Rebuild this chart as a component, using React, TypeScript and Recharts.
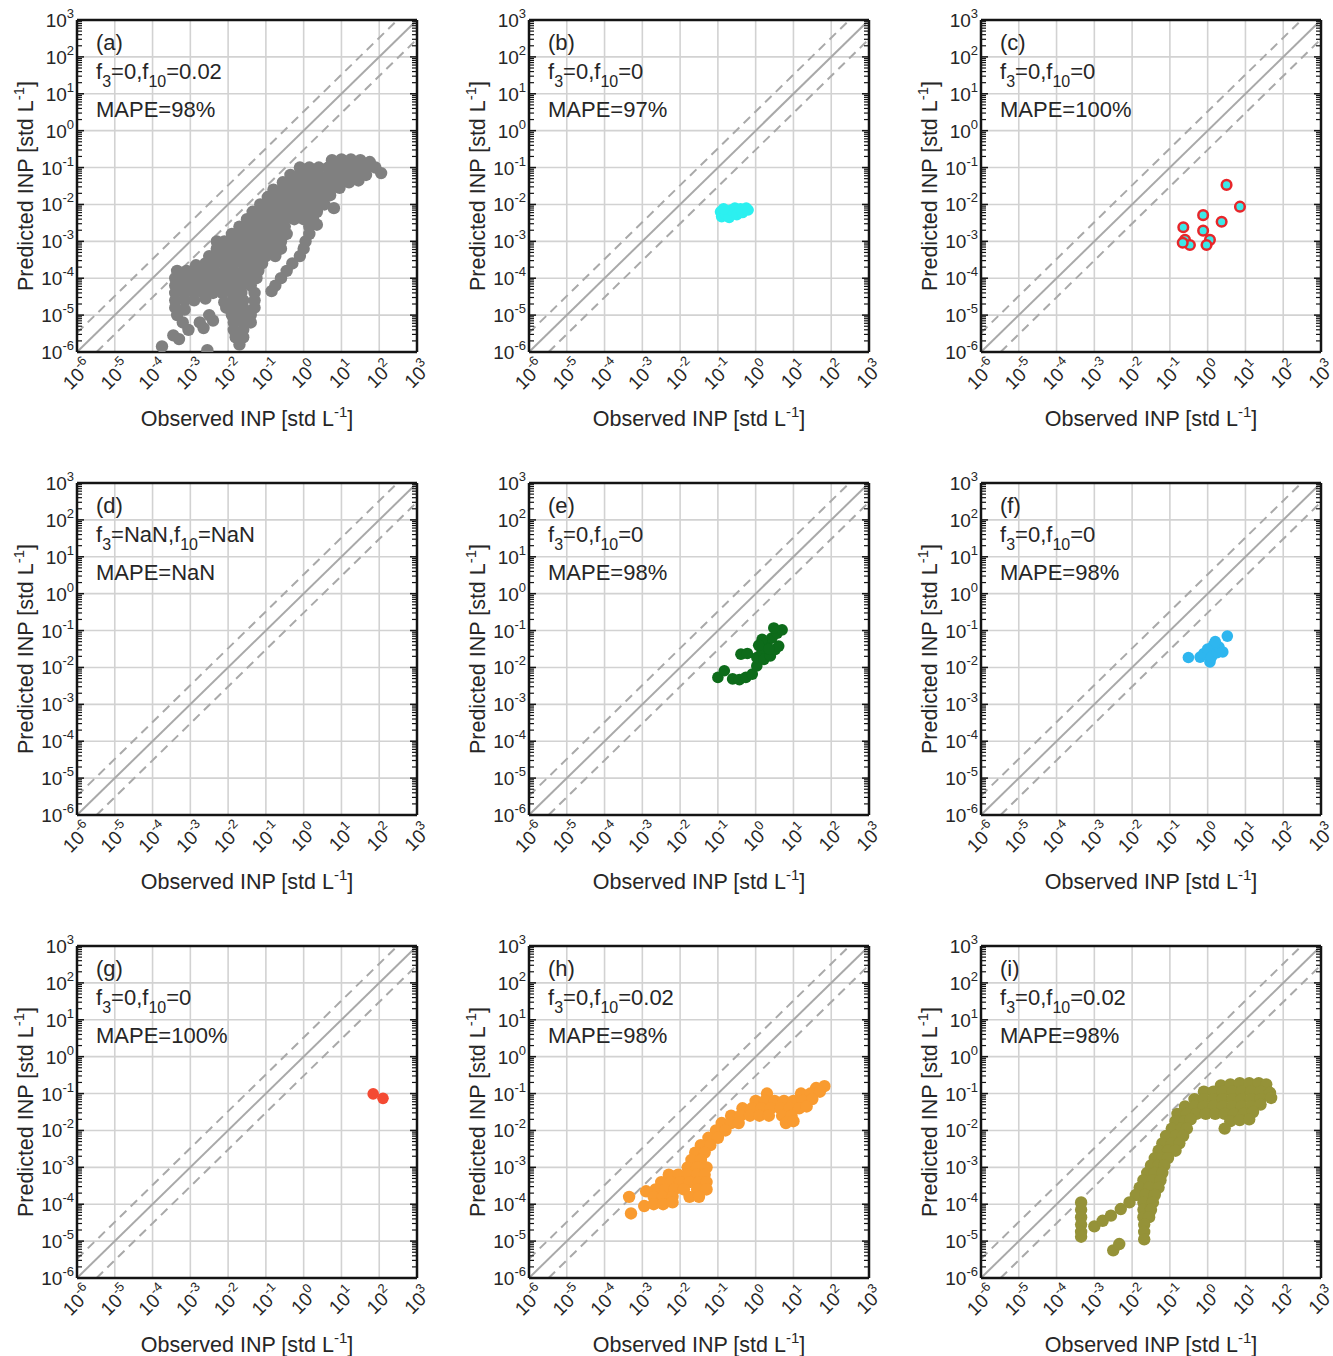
import React from "react";
import {
  ScatterChart,
  Scatter,
  XAxis,
  YAxis,
  CartesianGrid,
  ReferenceLine,
} from "recharts";

// axis setup (log10 exponents of the decade ticks)
const EXPONENTS = [-6, -5, -4, -3, -2, -1, 0, 1, 2, 3];
const MINOR_STEPS = [2, 3, 4, 5, 6, 7, 8, 9];
const DOMAIN: [number, number] = [1e-6, 1e3];
const DASH_FACTOR = 3.3;

// panel annotations
const LETTERS = ["a", "b", "c", "d", "e", "f", "g", "h", "i"];
const F3 = ["0", "0", "0", "NaN", "0", "0", "0", "0", "0"];
const F10 = ["0.02", "0", "0", "NaN", "0", "0", "0", "0.02", "0.02"];
const MAPE = ["98%", "97%", "100%", "NaN", "98%", "98%", "100%", "98%", "98%"];

// points as [log10 observed, log10 predicted]
const POINTS_A = [
  [0.75, -0.8], [1.0, -0.78], [1.25, -0.78], [1.5, -0.8], [1.75, -0.85],
  [-0.1, -1.0], [0.15, -1.0], [0.4, -1.0], [0.65, -1.0], [0.9, -1.0], [1.15, -1.0], [1.4, -1.0], [1.65, -1.0], [1.9, -1.0],
  [2.05, -1.15],
  [-0.35, -1.2], [-0.1, -1.2], [0.15, -1.2], [0.4, -1.2], [0.65, -1.2], [0.9, -1.2], [1.15, -1.2], [1.4, -1.2], [1.65, -1.2],
  [-0.55, -1.4], [-0.3, -1.4], [-0.05, -1.4], [0.2, -1.4], [0.45, -1.4], [0.7, -1.4], [0.95, -1.4], [1.2, -1.4], [1.45, -1.35],
  [-0.8, -1.6], [-0.55, -1.6], [-0.3, -1.6], [-0.05, -1.6], [0.2, -1.6], [0.45, -1.6], [0.7, -1.6], [0.95, -1.55],
  [-0.95, -1.8], [-0.7, -1.8], [-0.45, -1.8], [-0.2, -1.8], [0.05, -1.8], [0.3, -1.8], [0.55, -1.8], [0.7, -1.75],
  [-1.15, -2.0], [-0.9, -2.0], [-0.65, -2.0], [-0.4, -2.0], [-0.15, -2.0], [0.1, -2.0], [0.35, -2.0], [0.55, -2.0],
  [0.8, -2.1],
  [-1.35, -2.2], [-1.1, -2.2], [-0.85, -2.2], [-0.6, -2.2], [-0.35, -2.2], [-0.1, -2.2], [0.15, -2.2], [0.35, -2.2],
  [-1.5, -2.4], [-1.25, -2.4], [-1.0, -2.4], [-0.75, -2.4], [-0.5, -2.4], [-0.25, -2.4], [0.0, -2.4], [0.25, -2.4],
  [-1.7, -2.6], [-1.45, -2.6], [-1.2, -2.6], [-0.95, -2.6], [-0.7, -2.6], [-0.5, -2.6], [0.15, -2.6], [0.35, -2.55],
  [-1.9, -2.8], [-1.65, -2.8], [-1.4, -2.8], [-1.15, -2.8], [-0.9, -2.8], [-0.65, -2.8], [-0.45, -2.8], [0.15, -2.8],
  [-2.3, -3.0], [-2.1, -3.0], [-1.85, -3.0], [-1.6, -3.0], [-1.35, -3.0], [-1.1, -3.0], [-0.85, -3.0], [-0.6, -3.0], [0.05, -3.0],
  [-2.3, -3.2], [-2.05, -3.2], [-1.8, -3.2], [-1.55, -3.2], [-1.3, -3.2], [-1.05, -3.2], [-0.8, -3.2], [-0.6, -3.2], [0.0, -3.2],
  [-2.5, -3.4], [-2.25, -3.4], [-2.0, -3.4], [-1.75, -3.4], [-1.5, -3.4], [-1.25, -3.4], [-1.0, -3.4], [-0.75, -3.4], [-0.1, -3.4],
  [-2.85, -3.65], [-2.6, -3.6], [-2.35, -3.6], [-2.1, -3.6], [-1.85, -3.6], [-1.6, -3.6], [-1.35, -3.6], [-1.1, -3.6], [-0.3, -3.6],
  [-3.35, -3.8], [-3.1, -3.8], [-2.85, -3.8], [-2.6, -3.8], [-2.35, -3.8], [-2.1, -3.8], [-1.85, -3.8], [-1.6, -3.8], [-1.35, -3.8], [-1.2, -3.8], [-0.45, -3.8],
  [-3.4, -4.0], [-3.15, -4.0], [-2.9, -4.0], [-2.65, -4.0], [-2.4, -4.0], [-2.15, -4.0], [-1.9, -4.0], [-1.65, -4.0], [-1.4, -4.0], [-1.25, -4.0], [-0.6, -4.0],
  [-3.4, -4.2], [-3.15, -4.2], [-2.9, -4.2], [-2.65, -4.2], [-2.4, -4.2], [-2.15, -4.2], [-1.9, -4.2], [-1.65, -4.2], [-1.4, -4.2], [-0.75, -4.2],
  [-3.4, -4.4], [-3.15, -4.4], [-2.9, -4.4], [-2.65, -4.4], [-2.4, -4.4], [-2.15, -4.4], [-1.9, -4.4], [-1.65, -4.4], [-1.3, -4.4], [-0.85, -4.35],
  [-3.4, -4.6], [-3.15, -4.6], [-2.9, -4.6], [-2.6, -4.55], [-2.1, -4.65], [-1.85, -4.6], [-1.6, -4.6], [-1.3, -4.6],
  [-3.4, -4.8], [-3.15, -4.85], [-2.05, -4.8], [-1.85, -4.8], [-1.6, -4.8], [-1.3, -4.8],
  [-3.35, -5.0], [-2.5, -5.0], [-1.9, -5.0], [-1.65, -5.0], [-1.4, -5.0],
  [-3.2, -5.2], [-2.75, -5.2], [-2.4, -5.15], [-1.85, -5.2], [-1.6, -5.2], [-1.4, -5.2],
  [-3.05, -5.4], [-2.65, -5.35], [-1.85, -5.4], [-1.6, -5.4],
  [-3.45, -5.55], [-3.3, -5.65], [-1.8, -5.6], [-1.6, -5.6],
  [-3.75, -5.85], [-1.7, -5.8],
  [-2.55, -5.95],
];

const POINTS_B = [
  [-0.93, -2.2], [-0.9, -2.33], [-0.8, -2.25], [-0.7, -2.35], [-0.65, -2.15], [-0.55, -2.1],
  [-0.5, -2.28], [-0.4, -2.12], [-0.35, -2.22], [-0.25, -2.1], [-0.2, -2.15], [-0.85, -2.12],
];

const POINTS_C = [
  [0.5, -1.47], [0.855, -2.06], [-0.12, -2.29], [0.37, -2.47], [-0.645, -2.62], [-0.12, -2.71],
  [-0.6, -2.96], [-0.47, -3.1], [0.06, -2.96], [-0.03, -3.1], [-0.66, -3.04],
];

const POINTS_D: number[][] = [];

const POINTS_E = [
  [-1.0, -2.27], [-0.83, -2.09], [-0.61, -2.31], [-0.43, -2.33], [-0.26, -2.27], [-0.09, -2.18],
  [0.03, -1.96], [0.03, -1.73], [-0.39, -1.64], [-0.22, -1.62], [0.17, -1.56], [0.22, -1.78],
  [0.39, -1.69], [0.52, -1.51], [0.3, -1.33], [0.43, -1.2], [0.17, -1.24], [0.57, -1.07],
  [0.7, -0.98], [0.48, -0.93], [0.61, -1.42], [0.08, -1.4], [0.35, -1.5],
];

const POINTS_F = [
  [-0.51, -1.73], [-0.2, -1.72], [-0.1, -1.62], [0.0, -1.5], [0.06, -1.85], [0.1, -1.72],
  [0.15, -1.4], [0.25, -1.6], [0.3, -1.45], [0.4, -1.58], [0.52, -1.15], [0.2, -1.3],
];

const POINTS_G = [[1.84, -1.01], [2.1, -1.13]];

const POINTS_H = [
  [1.6, -0.85], [1.82, -0.8],
  [0.3, -1.0], [1.2, -1.0], [1.45, -1.0], [1.7, -0.95],
  [0.0, -1.2], [0.25, -1.2], [0.5, -1.2], [0.75, -1.2], [1.0, -1.2], [1.25, -1.2], [1.5, -1.15],
  [-0.35, -1.4], [-0.1, -1.4], [0.15, -1.4], [0.4, -1.4], [0.65, -1.4], [0.9, -1.4], [1.15, -1.4], [1.35, -1.35],
  [-0.65, -1.6], [-0.4, -1.6], [-0.15, -1.6], [0.1, -1.6], [0.35, -1.6], [0.7, -1.6], [0.95, -1.6],
  [-0.9, -1.8], [-0.65, -1.8], [-0.45, -1.8], [0.8, -1.8], [1.0, -1.75],
  [-1.05, -2.0], [-0.8, -2.0],
  [-1.25, -2.2], [-1.0, -2.2],
  [-1.45, -2.4], [-1.2, -2.4],
  [-1.6, -2.6], [-1.35, -2.6],
  [-1.7, -2.8], [-1.45, -2.8],
  [-1.8, -3.0], [-1.55, -3.0], [-1.3, -3.0],
  [-2.3, -3.2], [-2.05, -3.2], [-1.8, -3.2], [-1.55, -3.2], [-1.35, -3.2],
  [-2.5, -3.4], [-2.25, -3.4], [-2.0, -3.4], [-1.75, -3.4], [-1.5, -3.4], [-1.3, -3.4],
  [-2.9, -3.65], [-2.65, -3.6], [-2.4, -3.6], [-2.15, -3.6], [-1.9, -3.6], [-1.55, -3.6], [-1.3, -3.6],
  [-3.35, -3.8], [-2.7, -3.8], [-2.45, -3.8], [-2.2, -3.8], [-1.75, -3.8], [-1.5, -3.8],
  [-2.95, -4.05], [-2.7, -4.0], [-2.45, -4.0], [-2.2, -3.95],
  [-3.3, -4.25],
];

const POINTS_I = [
  [0.35, -0.78], [0.6, -0.75], [0.85, -0.72], [1.1, -0.72], [1.35, -0.72], [1.55, -0.75],
  [-0.1, -0.95], [0.15, -0.95], [0.4, -0.95], [0.65, -0.95], [0.9, -0.95], [1.15, -0.95], [1.4, -0.95], [1.65, -0.98],
  [-0.35, -1.15], [-0.1, -1.15], [0.15, -1.15], [0.4, -1.15], [0.65, -1.15], [0.9, -1.15], [1.15, -1.15], [1.4, -1.15], [1.68, -1.12],
  [-0.6, -1.35], [-0.35, -1.35], [-0.1, -1.35], [0.15, -1.35], [0.4, -1.35], [0.65, -1.35], [0.9, -1.35], [1.15, -1.35], [1.4, -1.3],
  [-0.8, -1.55], [-0.55, -1.55], [-0.3, -1.55], [-0.05, -1.55], [0.2, -1.55], [0.45, -1.55], [0.7, -1.55], [0.95, -1.55], [1.2, -1.5],
  [-0.85, -1.75], [-0.6, -1.75], [-0.45, -1.7], [0.6, -1.75], [0.85, -1.72], [1.1, -1.7],
  [-0.95, -1.95], [-0.7, -1.95], [-0.55, -1.95], [0.45, -1.95],
  [-1.1, -2.15], [-0.85, -2.15], [-0.65, -2.15],
  [-1.2, -2.35], [-0.95, -2.35], [-0.75, -2.35],
  [-1.3, -2.55], [-1.05, -2.55], [-0.85, -2.55],
  [-1.4, -2.75], [-1.2, -2.75], [-1.05, -2.75],
  [-1.5, -2.95], [-1.3, -2.95], [-1.15, -2.95],
  [-1.6, -3.15], [-1.4, -3.15], [-1.2, -3.15],
  [-1.7, -3.35], [-1.45, -3.35], [-1.25, -3.35],
  [-1.8, -3.55], [-1.55, -3.55], [-1.3, -3.55],
  [-1.9, -3.75], [-1.65, -3.75], [-1.4, -3.75],
  [-1.7, -3.95], [-1.45, -3.95],
  [-1.7, -4.15], [-1.5, -4.15],
  [-1.7, -4.35], [-1.55, -4.35],
  [-1.68, -4.55], [-1.68, -4.75], [-1.68, -4.95],
  [-3.35, -3.95], [-3.35, -4.15], [-3.35, -4.35], [-3.35, -4.55], [-3.35, -4.75], [-3.35, -4.88],
  [-3.0, -4.6], [-2.78, -4.45], [-2.56, -4.31], [-2.3, -4.13], [-2.07, -3.95],
  [-2.5, -5.25], [-2.34, -5.08],
];

const POINT_SETS = [POINTS_A, POINTS_B, POINTS_C, POINTS_D, POINTS_E, POINTS_F, POINTS_G, POINTS_H, POINTS_I];
const FILLS = ["#808080", "#2cf0f0", "#3de8e8", "#808080", "#0d6b1a", "#2eb6ef", "#f44a33", "#f99b30", "#959238"];
const EDGES = [null, null, "#e8262a", null, null, null, null, null, null];
const RADII = [6.2, 5.8, 4.8, 5.8, 5.8, 5.8, 5.8, 6.2, 6.2];

const DECADE_TICKS = EXPONENTS.map((e) => 10 ** e);
const MINOR_TICKS = EXPONENTS.slice(0, -1).flatMap((e) => MINOR_STEPS.map((m) => m * 10 ** e));

const FONT = '"Liberation Sans", Arial, Helvetica, sans-serif';
const TEXT = "#262626";
const BOX = "#141414";
const REF = "#a9a9a9";

function XTick({ x, y, payload }: any) {
  const e = Math.round(Math.log10(payload.value));
  return (
    <text
      transform={`translate(${x + 1},${y + 23}) rotate(-45)`}
      textAnchor="middle"
      dy={6}
      fontSize={19}
      fill={TEXT}
      fontFamily={FONT}
    >
      10<tspan dy={-9} fontSize={13}>{e}</tspan>
    </text>
  );
}

function YTick({ x, y, payload }: any) {
  const e = Math.round(Math.log10(payload.value));
  return (
    <text x={x - 3} y={y} dy={7} textAnchor="end" fontSize={19} fill={TEXT} fontFamily={FONT}>
      10<tspan dy={-9} fontSize={13}>{e}</tspan>
    </text>
  );
}

// invisible label so only the tick marks of the box axes are drawn
const NoLabel = () => <g />;

function XTitle({ viewBox }: any) {
  const { x, y, width } = viewBox;
  return (
    <text x={x + width / 2} y={y + 74} textAnchor="middle" fontSize={21.5} fill={TEXT} fontFamily={FONT}>
      Observed INP [std L<tspan dy={-9} fontSize={15}>-1</tspan>
      <tspan dy={9}>]</tspan>
    </text>
  );
}

function YTitle({ viewBox }: any) {
  const { x, y, height } = viewBox;
  return (
    <text
      transform={`translate(${x + 26},${y + height / 2}) rotate(-90)`}
      textAnchor="middle"
      fontSize={21.5}
      fill={TEXT}
      fontFamily={FONT}
    >
      Predicted INP [std L<tspan dy={-9} fontSize={15}>-1</tspan>
      <tspan dy={9}>]</tspan>
    </text>
  );
}

const logAxis = {
  type: "number" as const,
  scale: "log" as const,
  domain: DOMAIN,
  allowDataOverflow: true,
  interval: 0 as const,
};

const majorBox = {
  ...logAxis,
  mirror: true,
  ticks: DECADE_TICKS,
  tick: NoLabel,
  tickSize: 7,
  axisLine: { stroke: BOX, strokeWidth: 2.5 },
  tickLine: { stroke: BOX, strokeWidth: 1.5 },
};

const minorBox = {
  ...logAxis,
  mirror: true,
  ticks: MINOR_TICKS,
  tick: NoLabel,
  tickSize: 4,
  axisLine: false,
  tickLine: { stroke: BOX, strokeWidth: 1.2 },
};

function Panel({ index }: { index: number }) {
  const col = index % 3;
  const row = Math.floor(index / 3);
  const data = POINT_SETS[index].map(([lx, ly]) => ({ x: 10 ** lx, y: 10 ** ly }));
  const fill = FILLS[index];
  const edge = EDGES[index];
  const r = RADII[index];
  const textStyle = {
    position: "absolute" as const,
    left: 96,
    fontFamily: FONT,
    fontSize: 22,
    lineHeight: "24px",
    color: TEXT,
    whiteSpace: "nowrap" as const,
  };
  const sub = { fontSize: 16, position: "relative" as const, top: 8 };

  return (
    <div style={{ position: "absolute", left: col * 452, top: row * 463, width: 440, height: 450 }}>
      <ScatterChart width={440} height={450} margin={{ top: 20, right: 23, bottom: 18, left: 7 }}>
        <CartesianGrid stroke="#d2d2d2" strokeWidth={1.6} />
        <XAxis
          {...logAxis}
          dataKey="x"
          ticks={DECADE_TICKS}
          height={80}
          tickSize={0}
          tickMargin={0}
          axisLine={false}
          tickLine={false}
          tick={(p: any) => <XTick {...p} />}
          label={<XTitle />}
        />
        <YAxis
          {...logAxis}
          dataKey="y"
          ticks={DECADE_TICKS}
          width={70}
          tickSize={0}
          tickMargin={0}
          axisLine={false}
          tickLine={false}
          tick={(p: any) => <YTick {...p} />}
          label={<YTitle />}
        />
        <ReferenceLine
          segment={[{ x: 1e-6, y: 1e-6 }, { x: 1e3, y: 1e3 }]}
          stroke={REF}
          strokeWidth={2}
        />
        <ReferenceLine
          segment={[{ x: 1e-6, y: 1e-6 * DASH_FACTOR }, { x: 1e3 / DASH_FACTOR, y: 1e3 }]}
          stroke={REF}
          strokeWidth={2}
          strokeDasharray="9 6"
        />
        <ReferenceLine
          segment={[{ x: 1e-6 * DASH_FACTOR, y: 1e-6 }, { x: 1e3, y: 1e3 / DASH_FACTOR }]}
          stroke={REF}
          strokeWidth={2}
          strokeDasharray="9 6"
        />
        <Scatter
          data={data}
          isAnimationActive={false}
          shape={(p: any) => (
            <circle
              cx={p.cx}
              cy={p.cy}
              r={r}
              fill={fill}
              stroke={edge ?? "none"}
              strokeWidth={edge ? 2.5 : 0}
            />
          )}
        />
        {/* box with inward ticks on all four sides */}
        <XAxis {...majorBox} xAxisId="bMaj" orientation="bottom" height={1} />
        <XAxis {...minorBox} xAxisId="bMin" orientation="bottom" height={1} />
        <XAxis {...majorBox} xAxisId="tMaj" orientation="top" height={1} />
        <XAxis {...minorBox} xAxisId="tMin" orientation="top" height={1} />
        <YAxis {...majorBox} yAxisId="lMaj" orientation="left" width={1} />
        <YAxis {...minorBox} yAxisId="lMin" orientation="left" width={1} />
        <YAxis {...majorBox} yAxisId="rMaj" orientation="right" width={1} />
        <YAxis {...minorBox} yAxisId="rMin" orientation="right" width={1} />
      </ScatterChart>

      <div style={{ ...textStyle, top: 31 }}>({LETTERS[index]})</div>
      <div style={{ ...textStyle, top: 60 }}>
        f<span style={sub}>3</span>={F3[index]},f<span style={sub}>10</span>={F10[index]}
      </div>
      <div style={{ ...textStyle, top: 98 }}>MAPE={MAPE[index]}</div>
    </div>
  );
}

export default function App() {
  return (
    <div
      style={{
        position: "absolute",
        left: 0,
        top: 0,
        width: 1333,
        height: 1356,
        overflow: "hidden",
        background: "#ffffff",
      }}
    >
      {LETTERS.map((_, i) => (
        <Panel key={i} index={i} />
      ))}
    </div>
  );
}
